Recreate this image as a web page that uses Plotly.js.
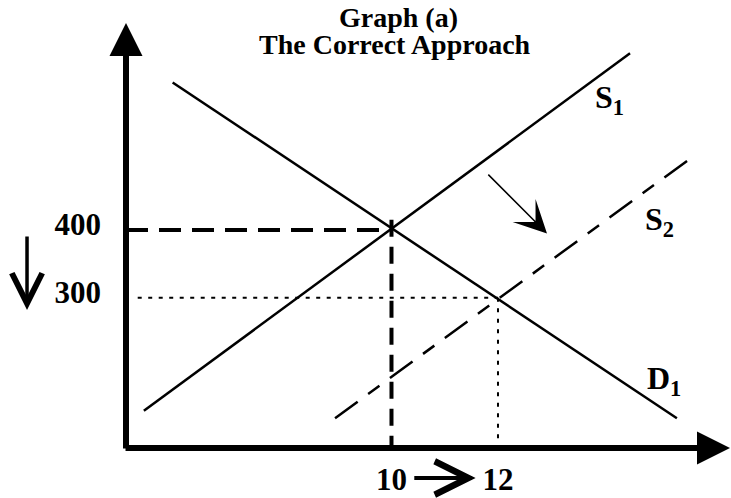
<!DOCTYPE html>
<html>
<head>
<meta charset="utf-8">
<script src="https://cdn.plot.ly/plotly-3.0.1.min.js"></script>
<style>html,body{margin:0;padding:0;background:#fff;}#chart{width:731px;height:498px;}</style>
</head>
<body>
<div id="chart"></div>
<script>
// ---- data ----
const qS1 = [5.35, 14.48];     // supply S1 (quantity)
const pS1 = [133, 661];        // supply S1 (price)
const qD1 = [5.89, 15.36];     // demand D1
const pD1 = [618, 122];
const qS2 = [8.94, 15.74];     // supply S2 (shifted)
const pS2 = [122, 513];
const qEq = [10, 12];          // equilibrium quantities (before, after)
const pEq = [400, 300];        // equilibrium prices (before, after)
const xTickLabels = ['10', '12'];
const yTickLabels = ['400', '300'];
const curveLabels = ['S<sub>1</sub>', 'S<sub>2</sub>', 'D<sub>1</sub>'];
const titleLines = ['Graph (a)', 'The Correct Approach'];

// ---- layout constants ----
const xRange = [5.014, 16.376];
const yRange = [78, 705.8];
const FONT = 'Liberation Serif, Times New Roman, serif';
const overshoot = 15;      // vertical guide pokes slightly above the crossing
const dotInsetQ = 0.22;    // dotted guide starts a bit right of the axis
const dotInsetP = 12;      // dotted guide stops a bit above the axis

const traces = [
  {x: qS1, y: pS1, mode: 'lines', line: {color: '#000', width: 2.5}},
  {x: qD1, y: pD1, mode: 'lines', line: {color: '#000', width: 2.5}},
  {x: qS2, y: pS2, mode: 'lines', line: {color: '#000', width: 2.5, dash: '28px,13px,14px,13px'}},
  {x: [xRange[0], qEq[0]], y: [pEq[0], pEq[0]], mode: 'lines', line: {color: '#000', width: 4, dash: '22px,11px'}},
  {x: [qEq[0], qEq[0]], y: [pEq[0] + overshoot, yRange[0]], mode: 'lines', line: {color: '#000', width: 4, dash: '17px,10px'}},
  {x: [xRange[0] + dotInsetQ, qEq[1]], y: [pEq[1], pEq[1]], mode: 'lines', line: {color: '#000', width: 2, dash: '4px,6.5px'}},
  {x: [qEq[1], qEq[1]], y: [pEq[1], yRange[0] + dotInsetP], mode: 'lines', line: {color: '#000', width: 2, dash: '4px,6.5px'}}
];

const labelFont = {family: FONT, size: 32, color: '#000', weight: 'bold'};
const annotations = [
  // second title line
  {text: titleLines[1], xref: 'paper', yref: 'paper', x: (395 - 126) / 605, y: 0.95,
   showarrow: false, xanchor: 'center', yanchor: 'middle',
   font: {family: FONT, size: 28, color: '#000', weight: 'bold'}},
  // curve labels
  {text: curveLabels[0], x: 14.10, y: 593, xref: 'x', yref: 'y', showarrow: false, font: labelFont},
  {text: curveLabels[1], x: 15.04, y: 413, xref: 'x', yref: 'y', showarrow: false, font: labelFont},
  {text: curveLabels[2], x: 15.12, y: 178, xref: 'x', yref: 'y', showarrow: false, font: labelFont},
  // y axis arrow
  {text: '', xref: 'paper', yref: 'paper', x: 0, y: 1, ax: 0, ay: 427, axref: 'pixel', ayref: 'pixel',
   showarrow: true, arrowhead: 2, arrowwidth: 6, arrowsize: 1.1, arrowcolor: '#000', standoff: 0},
  // x axis arrow
  {text: '', xref: 'paper', yref: 'paper', x: 1.0083, y: 0, ax: -612, ay: 0, axref: 'pixel', ayref: 'pixel',
   showarrow: true, arrowhead: 2, arrowwidth: 6, arrowsize: 1.1, arrowcolor: '#000', standoff: 0},
  // supply shift arrow
  {text: '', xref: 'x', yref: 'y', x: 12.92, y: 395, axref: 'x', ayref: 'y', ax: 11.79, ay: 484,
   showarrow: true, arrowhead: 3, arrowwidth: 1.5, arrowsize: 3.6, arrowcolor: '#000', standoff: 0},
  // quantity increase arrow (10 -> 12)
  {text: '', xref: 'x', yref: 'paper', x: 11.58, y: -0.0706, axref: 'x', ayref: 'pixel', ax: 10.40, ay: 0,
   showarrow: true, arrowhead: 5, arrowwidth: 4, arrowsize: 1.65, arrowcolor: '#000', standoff: 0},
  // price decrease arrow
  {text: '', xref: 'paper', yref: 'paper', x: -0.1636, y: 0.3247, ax: 0, ay: -75, axref: 'pixel', ayref: 'pixel',
   showarrow: true, arrowhead: 5, arrowwidth: 3.5, arrowsize: 1.7, arrowcolor: '#000', standoff: 0}
];

const tickFont = {family: FONT, size: 31, color: '#000', weight: 'bold'};
const layout = {
  width: 731, height: 498,
  margin: {l: 126, r: 0, t: 23, b: 50, pad: 0},
  paper_bgcolor: '#fff', plot_bgcolor: '#fff',
  showlegend: false, hovermode: false,
  title: {text: titleLines[0], font: {family: FONT, size: 28, color: '#000', weight: 'bold'},
          xref: 'container', yref: 'container', x: 398.5 / 731, xanchor: 'center', y: 1 - 17.5 / 498, yanchor: 'middle'},
  xaxis: {range: xRange, showgrid: false, zeroline: false, showline: false, ticks: '',
          tickvals: qEq, ticktext: xTickLabels, tickfont: tickFont, ticklabelstandoff: 10, fixedrange: true},
  yaxis: {range: yRange, showgrid: false, zeroline: false, showline: false, ticks: '',
          tickvals: pEq, ticktext: yTickLabels, tickfont: tickFont, ticklabelstandoff: 24, ticklabelshift: -6, fixedrange: true},
  annotations: annotations
};

Plotly.newPlot('chart', traces, layout, {displayModeBar: false, staticPlot: true});
</script>
</body>
</html>
